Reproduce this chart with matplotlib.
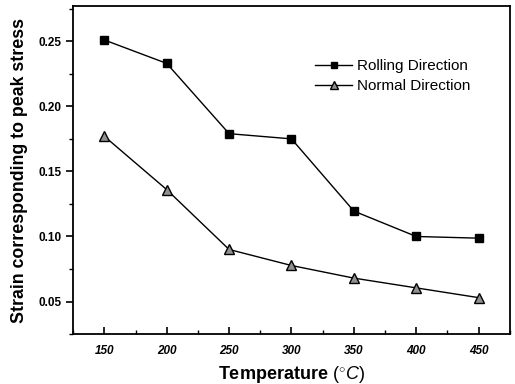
import numpy as np
import matplotlib
matplotlib.use('Agg')
import matplotlib.pyplot as plt
from matplotlib.ticker import MultipleLocator

plt.rcParams['font.family'] = ['Liberation Sans', 'DejaVu Sans']
plt.rcParams['mathtext.fontset'] = 'custom'
plt.rcParams['mathtext.rm'] = 'Liberation Sans'
plt.rcParams['mathtext.it'] = 'Liberation Sans:italic'

temperature = [150, 200, 250, 300, 350, 400, 450]
rolling_dir = [0.251, 0.233, 0.179, 0.175, 0.1195, 0.100, 0.0987]
normal_dir = [0.177, 0.136, 0.090, 0.0777, 0.068, 0.0605, 0.053]

fig = plt.figure(figsize=(5.15, 3.84), dpi=100)
ax = fig.add_axes([0.142, 0.130, 0.848, 0.854])

ax.plot(temperature, rolling_dir, color='black', lw=1.0, marker='s', markersize=6,
        markerfacecolor='black', markeredgecolor='black', label='Rolling Direction')
ax.plot(temperature, normal_dir, color='black', lw=1.0, marker='^', markersize=7,
        markerfacecolor='#909090', markeredgecolor='black', label='Normal Direction')

ax.set_xlim(125, 475)
ax.set_ylim(0.025, 0.277)
ax.xaxis.set_major_locator(MultipleLocator(50))
ax.xaxis.set_minor_locator(MultipleLocator(25))
ax.yaxis.set_minor_locator(MultipleLocator(0.025))
ax.set_yticks([0.05, 0.10, 0.15, 0.20, 0.25])
ax.set_yticklabels(['0.05', '0.10', '0.15', '0.20', '0.25'])

ax.tick_params(axis='x', which='major', direction='in', length=5, width=1.2, pad=8)
ax.tick_params(axis='x', which='minor', direction='in', length=3, width=1.0)
ax.tick_params(axis='y', which='major', direction='out', length=5, width=1.2)
ax.tick_params(axis='y', which='minor', direction='out', length=3, width=1.0)
for lbl in ax.get_xticklabels() + ax.get_yticklabels():
    lbl.set_fontsize(8.5)
    lbl.set_fontweight('bold')
for lbl in ax.get_xticklabels():
    lbl.set_fontstyle('italic')

for sp in ax.spines.values():
    sp.set_linewidth(1.3)

ax.set_xlabel('Temperature ' + r'$(^{\circ}C)$', fontsize=13, fontweight='bold', labelpad=5)
ax.set_ylabel('Strain corresponding to peak stress', fontsize=12.8, fontweight='bold', labelpad=7)

ax.legend(loc='upper right', bbox_to_anchor=(0.94, 0.88), frameon=False, fontsize=11,
          handlelength=2.4, handletextpad=0.3, labelspacing=0.4, borderpad=0.4,
          markerscale=0.8)

fig.savefig('out.png', dpi=100)
